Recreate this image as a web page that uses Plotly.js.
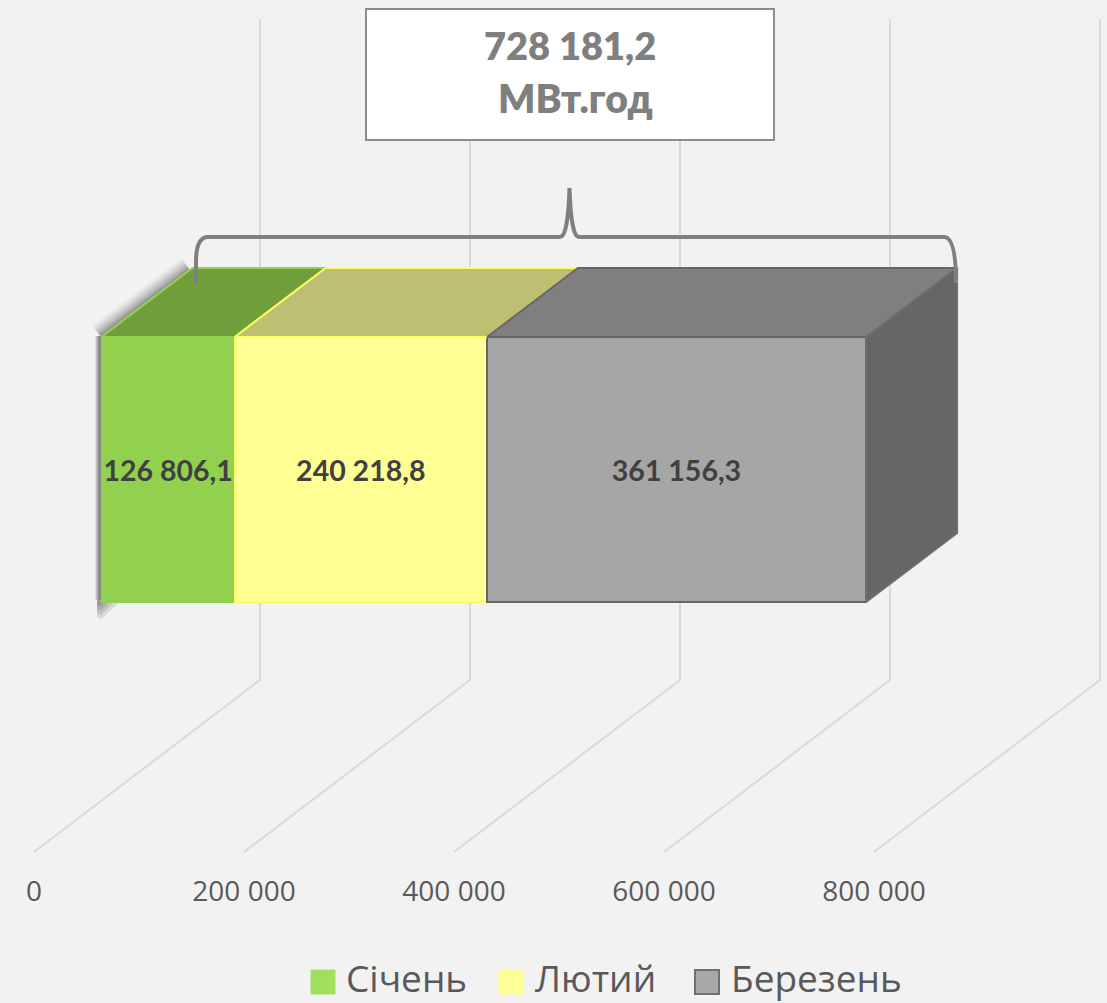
<!DOCTYPE html>
<html>
<head>
<meta charset="utf-8">
<script src="https://cdn.plot.ly/plotly-3.0.1.min.js"></script>
<style>html,body{margin:0;padding:0;background:#f2f2f2}#chart{width:1107px;height:1003px}</style>
</head>
<body>
<div id="chart"></div>
<script>
const months = ['Січень', 'Лютий', 'Березень'];
const values = [126806.1, 240218.8, 361156.3];
const barLabels = ['126 806,1', '240 218,8', '361 156,3'];
const tickValues = [0, 200000, 400000, 600000, 800000];
const tickLabels = ['0', '200 000', '400 000', '600 000', '800 000'];
const totalLabel = '728 181,2';
const unitLabel = 'МВт.год';

const frontColors = ['#92d050', '#ffff94', '#a6a6a6'];
const topColors = ['#6f9e3b', '#bfbf73', '#7f7f7f'];
const edgeColors = ['#8fd24e', '#ffff60', '#666666'];
const sideColor = '#666666';
const gridColor = '#d9d9d9';

// Scale: pixels per unit on the value axis
const W = 1107, H = 1003, S = 1.05 / 1000;
const axisZero = 34, barZero = 101.5;
const toX = p => (p - axisZero) / S;      // pixel → main-axis value
const toX2 = p => (p - barZero) / S;      // pixel → bar-axis value
const floorY = 852, floorBackY = 680, wallTopY = 19, floorDX = 226;
const barTop = 337, barBottom = 602, depthDX = 91, depthDY = 69;

const traces = [];

// Floor diagonals and back-wall gridlines (built from the ticks)
tickValues.forEach(t => {
  traces.push({
    type: 'scatter', mode: 'lines', xaxis: 'x', yaxis: 'y', hoverinfo: 'skip',
    x: [t, t + floorDX / S, t + floorDX / S],
    y: [floorY, floorBackY, wallTopY],
    line: {color: gridColor, width: 2}
  });
});

// Stacked front faces
months.forEach((m, i) => {
  traces.push({
    type: 'bar', orientation: 'h', name: m, xaxis: 'x2', yaxis: 'y',
    x: [values[i]], y: [(barTop + barBottom) / 2], width: barBottom - barTop,
    marker: {color: frontColors[i], line: {color: edgeColors[i], width: 2}},
    text: [barLabels[i]], textposition: 'inside', insidetextanchor: 'middle',
    textangle: 0, constraintext: 'none', cliponaxis: false,
    textfont: {family: 'Lato, Carlito, sans-serif', size: 28.5, color: '#404040', weight: 700},
    hoverinfo: 'skip'
  });
});

// Top faces
let cum = 0;
months.forEach((m, i) => {
  const a = cum, b = cum + values[i];
  cum = b;
  const d = depthDX / S;
  traces.push({
    type: 'scatter', mode: 'lines', fill: 'toself', xaxis: 'x2', yaxis: 'y', hoverinfo: 'skip',
    x: [a, b, b + d, a + d, a],
    y: [barTop, barTop, barTop - depthDY, barTop - depthDY, barTop],
    fillcolor: topColors[i], line: {color: edgeColors[i], width: 2}
  });
});

// Side face at the stack's end
traces.push({
  type: 'scatter', mode: 'lines', fill: 'toself', xaxis: 'x2', yaxis: 'y', hoverinfo: 'skip',
  x: [cum, cum + depthDX / S, cum + depthDX / S, cum, cum],
  y: [barTop, barTop - depthDY, barBottom - depthDY, barBottom, barTop],
  fillcolor: sideColor, line: {color: '#6e6e6e', width: 2}
});

// Legend row drawn at the reference's size
const legendX = [323, 511, 707];
const legendTextX = [346, 535, 731];
months.forEach((m, i) => {
  traces.push({
    type: 'scatter', mode: 'markers', xaxis: 'x', yaxis: 'y', hoverinfo: 'skip', cliponaxis: false,
    x: [toX(legendX[i])], y: [982],
    marker: {symbol: 'square', size: 24, color: ['#a0e05a', '#ffff99', '#a9a9a9'][i],
             line: {color: ['#a8e070', '#ffff80', '#707070'][i], width: i === 2 ? 2 : 1}}
  });
  traces.push({
    type: 'scatter', mode: 'text', xaxis: 'x', yaxis: 'y', hoverinfo: 'skip', cliponaxis: false,
    x: [toX(legendTextX[i])], y: [983],
    text: [m], textposition: 'middle right',
    textfont: {family: 'Open Sans, sans-serif', size: 37, color: '#595959'}
  });
});

// Soft shadow along the left edges
const diagPath = `M${toX(190)},270 L${toX(101)},337`;
const edgePath = `M${toX(100)},336 L${toX(100)},600`;
const diagShadow = [[30, .025], [26, .035], [22, .05], [18, .06], [14, .07], [10, .08], [6, .1]].map(([w, a]) => ({
  type: 'path', layer: 'below', xref: 'x', yref: 'y', path: diagPath,
  line: {color: `rgba(0,0,0,${a})`, width: w}
}));
const edgeShadow = [9, 7, 5, 3].map(w => ({
  type: 'path', layer: 'below', xref: 'x', yref: 'y', path: edgePath,
  line: {color: 'rgba(0,0,0,0.13)', width: w}
}));
const footShapes = [[122, 619], [116, 615], [110, 611], [105, 607]].map(([px, py]) => ({
  type: 'path', layer: 'below', xref: 'x', yref: 'y',
  path: `M${toX(97)},600 L${toX(px)},600 L${toX(101)},${py} L${toX(97)},${py - 2} Z`,
  fillcolor: 'rgba(0,0,0,0.1)', line: {width: 0}
}));

const bracket = `M${toX(196)},283 L${toX(196)},262 Q${toX(196)},237 ${toX(208)},237 ` +
  `L${toX(560)},237 Q${toX(568)},237 ${toX(569.5)},188 Q${toX(571)},237 ${toX(579)},237 ` +
  `L${toX(944)},237 Q${toX(956)},237 ${toX(956)},283`;

const layout = {
  width: W, height: H, margin: {l: 0, r: 0, t: 0, b: 0},
  paper_bgcolor: '#f2f2f2', plot_bgcolor: '#f2f2f2',
  showlegend: false, barmode: 'stack', hovermode: false,
  xaxis: {
    range: [toX(0), toX(W)], anchor: 'free', position: (H - floorY) / H,
    tickmode: 'array', tickvals: tickValues, ticktext: tickLabels,
    showgrid: false, zeroline: false, showline: false, ticks: '',
    ticklabelstandoff: 20, tickangle: 0, side: 'bottom',
    tickfont: {family: 'Open Sans, sans-serif', size: 28, color: '#595959'}
  },
  xaxis2: {
    range: [toX2(0), toX2(W)], overlaying: 'x', anchor: 'y', visible: false
  },
  yaxis: {range: [H, 0], domain: [0, 1], visible: false},
  shapes: [
    ...diagShadow, ...edgeShadow, ...footShapes,
    {type: 'rect', layer: 'above', xref: 'x', yref: 'y', x0: toX(366), x1: toX(774), y0: 9, y1: 140,
     fillcolor: '#ffffff', line: {color: '#8c8c8c', width: 2}},
    {type: 'path', layer: 'above', xref: 'x', yref: 'y', path: bracket,
     line: {color: '#7f7f7f', width: 4}}
  ],
  annotations: [
    {xref: 'x', yref: 'y', x: toX(570), y: 45, text: totalLabel, showarrow: false,
     font: {family: 'Lato, Carlito, sans-serif', size: 38, color: '#7f7f7f', weight: 800}},
    {xref: 'x', yref: 'y', x: toX(575), y: 98, text: unitLabel, showarrow: false,
     font: {family: 'Lato, Carlito, sans-serif', size: 39, color: '#7f7f7f', weight: 800}}
  ]
};

Plotly.newPlot('chart', traces, layout, {displayModeBar: false, staticPlot: true});
</script>
</body>
</html>
